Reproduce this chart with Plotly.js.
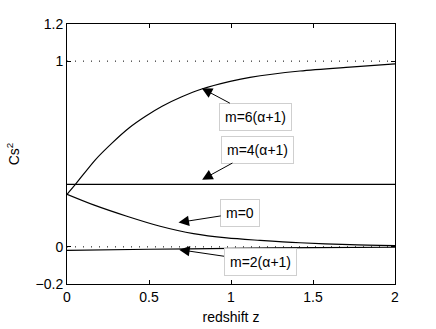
<!DOCTYPE html>
<html>
<head>
<meta charset="utf-8">
<script src="https://cdn.plot.ly/plotly-3.0.1.min.js"></script>
<style>html,body{margin:0;padding:0;background:#fff;}#chart{width:436px;height:329px;}</style>
</head>
<body>
<div id="chart"></div>
<script>
// redshift samples and Cs^2 values
var zM6 = [0, 0.05, 0.174, 0.276, 0.378, 0.479, 0.58, 0.7, 0.822, 0.995, 1.116, 1.421, 1.725, 2];
var cM6 = [0.283, 0.335, 0.470, 0.560, 0.640, 0.703, 0.757, 0.808, 0.850, 0.891, 0.913, 0.947, 0.968, 0.985];

var zM4 = [0, 2];
var cM4 = [0.336, 0.336];

var zM0 = [0, 0.162, 0.365, 0.568, 0.771, 0.974, 1.177, 1.42, 1.725, 2];
var cM0 = [0.283, 0.226, 0.165, 0.111, 0.071, 0.048, 0.035, 0.022, 0.012, 0.007];

var zM2 = [0, 0.5, 1, 1.5, 2];
var cM2 = [-0.019, -0.013, -0.008, -0.004, -0.002];

var refZ = [0, 2];
var refLevels = [0, 1];

var xTicks = [0, 0.5, 1, 1.5, 2];
var yTicks = [-0.2, 0, 1, 1.2];
var yTickText = ['\u22120.2', '0', '1', '1.2'];

var labels = ['m=6(\u03b1+1)', 'm=4(\u03b1+1)', 'm=0', 'm=2(\u03b1+1)'];

var lineStyle = {color: '#000', width: 1.2, shape: 'spline', smoothing: 0.8};
var traces = [];
refLevels.forEach(function (lv) {
  traces.push({x: refZ, y: [lv, lv], mode: 'lines', line: {color: '#000', width: 1, dash: '1px,7px'}, hoverinfo: 'skip'});
});
traces.push({x: zM6, y: cM6, mode: 'lines', line: lineStyle});
traces.push({x: zM4, y: cM4, mode: 'lines', line: {color: '#000', width: 1.2}});
traces.push({x: zM0, y: cM0, mode: 'lines', line: lineStyle});
traces.push({x: zM2, y: cM2, mode: 'lines', line: lineStyle});

var fontFam = 'Liberation Sans, Arial, sans-serif';
// label box centers and arrow tip positions in data coordinates
var boxPos = [[1.148, 0.701], [1.159, 0.524], [1.056, 0.183], [1.177, -0.079]];
var arrowTip = [[0.822, 0.854], [0.824, 0.362], [0.680, 0.131], [0.684, -0.015]];

var annotations = [];
for (var i = 0; i < labels.length; i++) {
  annotations.push({
    x: arrowTip[i][0], y: arrowTip[i][1], xref: 'x', yref: 'y',
    ax: boxPos[i][0], ay: boxPos[i][1], axref: 'x', ayref: 'y',
    text: labels[i], showarrow: true, arrowhead: 2, arrowsize: 2.1, arrowwidth: 1, arrowcolor: '#000',
    font: {family: fontFam, size: 14, color: '#000'},
    bgcolor: '#fff', bordercolor: '#cfcfcf', borderwidth: 1, borderpad: 5
  });
}

var layout = {
  width: 436, height: 329,
  margin: {l: 66.7, r: 41, t: 24.3, b: 45.3},
  paper_bgcolor: '#fff', plot_bgcolor: '#fff',
  showlegend: false,
  font: {family: fontFam, size: 14, color: '#000'},
  xaxis: {
    range: [0, 2], tickvals: xTicks, ticks: 'inside', ticklen: 4, tickcolor: '#000',
    showline: true, linecolor: '#000', linewidth: 1, mirror: 'ticks', showgrid: false, zeroline: false,
    title: {text: 'redshift z', font: {size: 14}, standoff: 8},
    tickfont: {size: 14}
  },
  yaxis: {
    range: [-0.2, 1.2], tickvals: yTicks, ticktext: yTickText, ticks: 'inside', ticklen: 4, tickcolor: '#000',
    showline: true, linecolor: '#000', linewidth: 1, mirror: 'ticks', showgrid: false, zeroline: false,
    title: {text: 'Cs<sup>2</sup>', font: {size: 14}, standoff: 12},
    tickfont: {size: 14}
  },
  annotations: annotations
};

Plotly.newPlot('chart', traces, layout, {staticPlot: true, displayModeBar: false});
</script>
</body>
</html>
